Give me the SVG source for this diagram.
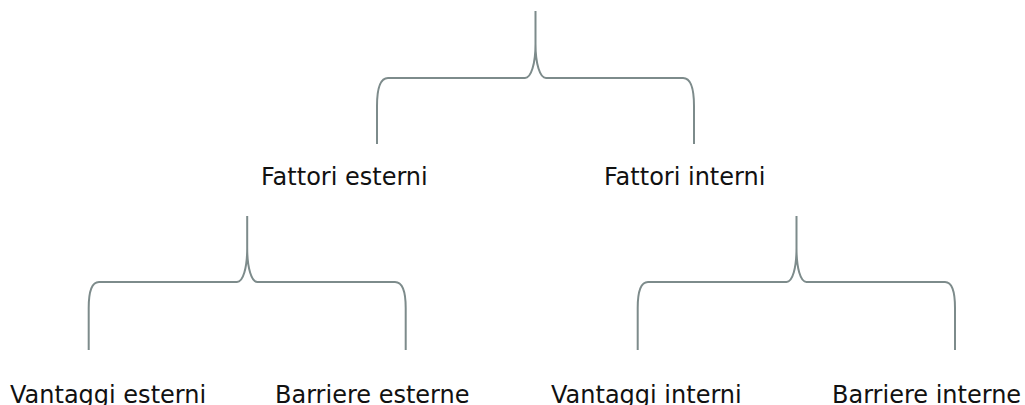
<svg xmlns="http://www.w3.org/2000/svg" width="1025" height="405" viewBox="0 0 1025 405">
  <style>
    .brace { fill: none; stroke: #7d8b8b; stroke-width: 2; stroke-linecap: butt; }
    .label { font-family: "DejaVu Sans", "Liberation Sans", sans-serif; font-size: 24px; fill: #111111; }
  </style>
  <rect width="1025" height="405" fill="#ffffff"/>

  <!-- curly-brace connectors -->
  <g id="connectors">
    <path class="brace" d="M 377 144 L 377 106 C 377 88 380 78 388 78 L 525 78 C 531 78 535.5 64 535.5 44 L 535.5 11 M 535.5 44 C 535.5 64 540 78 546 78 L 683 78 C 691 78 694 88 694 106 L 694 144"/>
    <path class="brace" d="M 88.7 350 L 88.7 308 C 88.7 290 92 282 99 282 L 237 282 C 243 282 247.2 268 247.2 248 L 247.2 216 M 247.2 248 C 247.2 268 251.5 282 257.5 282 L 395 282 C 402 282 405.7 290 405.7 308 L 405.7 350"/>
    <path class="brace" d="M 637.7 350 L 637.7 308 C 637.7 290 641 282 648 282 L 786.5 282 C 792.5 282 796.5 268 796.5 248 L 796.5 216 M 796.5 248 C 796.5 268 800.5 282 806.5 282 L 945 282 C 952 282 955 290 955 308 L 955 350"/>
  </g>

  <g id="fattori-esterni">
    <text class="label" x="261" y="185">Fattori esterni</text>
  </g>
  <g id="fattori-interni">
    <text class="label" x="604" y="185">Fattori interni</text>
  </g>
  <g id="vantaggi-esterni">
    <text class="label" x="10" y="403">Vantaggi esterni</text>
  </g>
  <g id="barriere-esterne">
    <text class="label" x="275" y="403">Barriere esterne</text>
  </g>
  <g id="vantaggi-interni">
    <text class="label" x="551" y="403">Vantaggi interni</text>
  </g>
  <g id="barriere-interne">
    <text class="label" x="832" y="403">Barriere interne</text>
  </g>
</svg>
